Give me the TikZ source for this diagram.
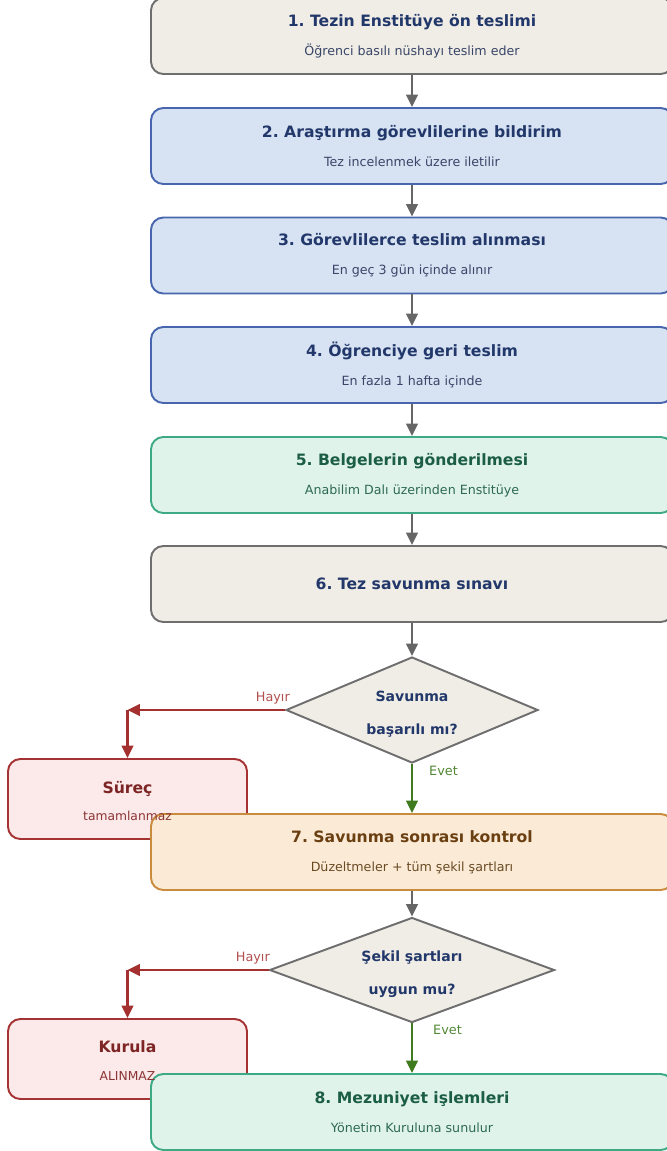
\documentclass[tikz,border=0pt]{standalone}
\usepackage{fontspec}
\setmainfont{DejaVu Sans}
\usetikzlibrary{shapes.geometric,arrows.meta}
\frenchspacing

\definecolor{grayfill}{HTML}{F0EDE6}
\definecolor{graydraw}{HTML}{6E6E6E}
\definecolor{bluefill}{HTML}{D7E2F3}
\definecolor{bluedraw}{HTML}{4766AD}
\definecolor{greenfill}{HTML}{E0F3EB}
\definecolor{greendraw}{HTML}{3DAA85}
\definecolor{orangefill}{HTML}{FBEBD6}
\definecolor{orangedraw}{HTML}{C98B3C}
\definecolor{redfill}{HTML}{FCE9E9}
\definecolor{reddraw}{HTML}{A63333}
\definecolor{navytext}{HTML}{22386A}
\definecolor{navysub}{HTML}{3A4668}
\definecolor{greentext}{HTML}{1B5E45}
\definecolor{greensub}{HTML}{2E6A52}
\definecolor{browntext}{HTML}{6A3F12}
\definecolor{brownsub}{HTML}{6A4A24}
\definecolor{redtext}{HTML}{7D2424}
\definecolor{redsub}{HTML}{8B3434}
\definecolor{arrowgray}{HTML}{666666}
\definecolor{arrowred}{HTML}{A53030}
\definecolor{arrowgreen}{HTML}{3F7A1F}

\newcommand\steptext[2]{{\bfseries\fontsize{8.9}{10}\selectfont #1}\\[7.4pt]#2}

\begin{document}
\begin{tikzpicture}[
    stepbox/.style={rounded corners=7pt, line width=1.1pt, minimum width=10.44cm, minimum height=1.52cm, inner sep=0pt, align=center, font=\fontsize{7.2}{9}\selectfont},
    graybox/.style={stepbox, draw=graydraw, fill=grayfill, text=navytext},
    bluebox/.style={stepbox, draw=bluedraw, fill=bluefill, text=navysub},
    greenbox/.style={stepbox, draw=greendraw, fill=greenfill, text=greensub},
    orangebox/.style={stepbox, draw=orangedraw, fill=orangefill, text=brownsub},
    decision/.style={diamond, draw=graydraw, fill=grayfill, line width=1.1pt, inner sep=0pt},
    decisiontext/.style={align=center, text=navytext, font=\bfseries\fontsize{8}{9.5}\selectfont},
    failbox/.style={draw=reddraw, fill=redfill, rounded corners=7pt, line width=1.1pt, minimum width=4.78cm, minimum height=1.6cm},
    failtext/.style={align=center, text=redsub, font=\fontsize{7}{9}\selectfont},
    flow/.style={draw=arrowgray, line width=1.3pt, -{Triangle[length=7pt,width=6.5pt]}},
    noflow/.style={flow, draw=arrowred},
    yesflow/.style={flow, draw=arrowgreen},
    nolabel/.style={text=arrowred!85, font=\fontsize{7.3}{8}\selectfont},
    yeslabel/.style={text=arrowgreen!90, font=\fontsize{7.3}{8}\selectfont},
]
\clip (0,0) rectangle (13.34,-23.02);

% Main steps
\node[graybox] (s1) at (8.24,-0.72) {\steptext{1. Tezin Enstitüye ön teslimi}{\color{navysub}Öğrenci basılı nüshayı teslim eder}};
\node[bluebox] (s2) at (8.24,-2.92) {\steptext{\color{navytext}2. Araştırma görevlilerine bildirim}{Tez incelenmek üzere iletilir}};
\node[bluebox] (s3) at (8.24,-5.11) {\steptext{\color{navytext}3. Görevlilerce teslim alınması}{En geç 3 gün içinde alınır}};
\node[bluebox] (s4) at (8.24,-7.30) {\steptext{\color{navytext}4. Öğrenciye geri teslim}{En fazla 1 hafta içinde}};
\node[greenbox] (s5) at (8.24,-9.50) {\steptext{\color{greentext}5. Belgelerin gönderilmesi}{Anabilim Dalı üzerinden Enstitüye}};
\node[graybox] (s6) at (8.24,-11.68) {\bfseries\fontsize{8.9}{10}\selectfont 6. Tez savunma sınavı};

% First decision
\node[decision, minimum width=5.04cm, minimum height=2.12cm] (d1) at (8.24,-14.2) {};
\node[decisiontext] at ([yshift=-0.08cm]d1.center) {Savunma\\[9.2pt]başarılı mı?};
\node[failbox] (fail1) at (2.55,-15.98) {};
\node[orangebox] (s7) at (8.24,-17.04) {\steptext{\color{browntext}7. Savunma sonrası kontrol}{Düzeltmeler + tüm şekil şartları}};
\node[failtext] at (2.55,-16.02) {{\bfseries\fontsize{8.9}{10}\selectfont\color{redtext}Süreç}\\[6.9pt]tamamlanmaz};

% Second decision
\node[decision, minimum width=5.7cm, minimum height=2.1cm] (d2) at (8.24,-19.4) {};
\node[decisiontext] at ([yshift=-0.08cm]d2.center) {Şekil şartları\\[9.2pt]uygun mu?};
\node[failbox] (fail2) at (2.55,-21.18) {};
\node[greenbox] (s8) at (8.24,-22.24) {\steptext{\color{greentext}8. Mezuniyet işlemleri}{Yönetim Kuruluna sunulur}};
\node[failtext] at (2.55,-21.22) {{\bfseries\fontsize{8.9}{10}\selectfont\color{redtext}Kurula}\\[6.9pt]ALINMAZ};

\coordinate (r1) at (2.55,-14.2);
\coordinate (r2) at (2.55,-19.4);

% Connectors
\draw[flow] (s1.south) -- (s2.north);
\draw[flow] (s2.south) -- (s3.north);
\draw[flow] (s3.south) -- (s4.north);
\draw[flow] (s4.south) -- (s5.north);
\draw[flow] (s5.south) -- (s6.north);
\draw[flow] (s6.south) -- (d1.north);
\draw[noflow] (d1.west) -- (r1);
\draw[noflow] (r1) -- (fail1.north);
\draw[yesflow] (d1.south) -- (s7.north);
\draw[flow] (s7.south) -- (d2.north);
\draw[noflow] (d2.west) -- (r2);
\draw[noflow] (r2) -- (fail2.north);
\draw[yesflow] (d2.south) -- (s8.north);

\node[nolabel, anchor=east] (h1) at (5.92,-13.96) {Hayır};
\node[yeslabel, anchor=west] (e1) at (8.46,-15.42) {Evet};
\node[nolabel, anchor=east] (h2) at (5.52,-19.16) {Hayır};
\node[yeslabel, anchor=west] (e2) at (8.54,-20.6) {Evet};

\end{tikzpicture}
\end{document}
